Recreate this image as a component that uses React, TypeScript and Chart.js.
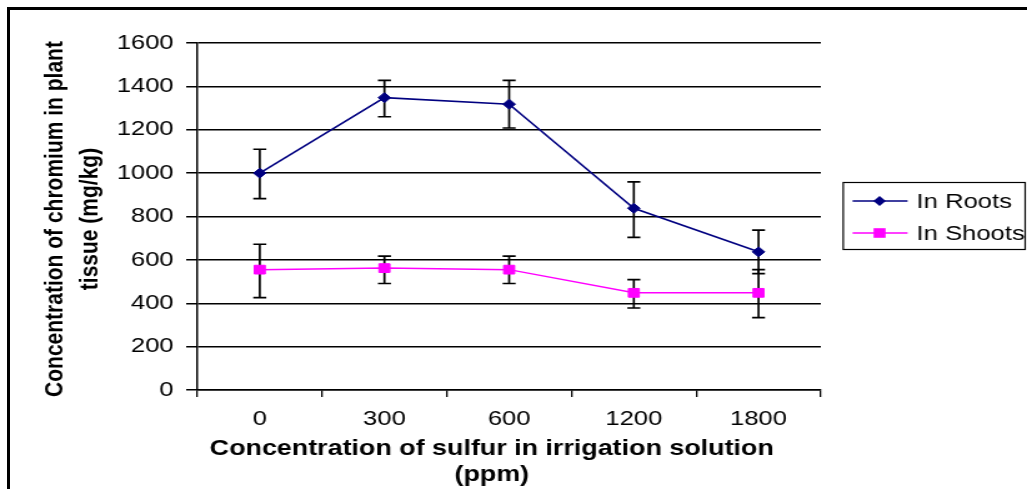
import React, { useEffect, useRef } from "react";
import { Chart, registerables } from "chart.js";

Chart.register(...registerables);

const categories = ["0", "300", "600", "1200", "1800"];
const roots = [1000, 1348, 1318, 838, 637];
const rootsLow = [882, 1260, 1208, 704, 537];
const rootsHigh = [1110, 1428, 1428, 960, 737];
const shoots = [555, 562, 555, 448, 448];
const shootsLow = [426, 491, 491, 378, 334];
const shootsHigh = [672, 617, 617, 509, 555];
const seriesNames = ["In Roots", "In Shoots"];
const yTitleLines = ["Concentration of chromium in plant", "tissue (mg/kg)"];
const xTitleLines = ["Concentration of sulfur in irrigation solution", "(ppm)"];

const ROOT_COLOR = "#000080";
const SHOOT_COLOR = "#FF00FF";
const FONT = "'Liberation Sans', Arial, sans-serif";
const W = 822;
const H = 489;
const K = 1027 / W;

const errLows = [rootsLow, shootsLow];
const errHighs = [rootsHigh, shootsHigh];

const errorBarPlugin = {
  id: "errorBars",
  beforeDatasetsDraw(chart: any) {
    const ctx = chart.ctx;
    const y = chart.scales.y;
    ctx.save();
    ctx.strokeStyle = "#000";
    ctx.lineWidth = 1.7;
    chart.data.datasets.forEach((ds: any, di: number) => {
      const meta = chart.getDatasetMeta(di);
      meta.data.forEach((pt: any, i: number) => {
        const x = pt.x;
        const yl = y.getPixelForValue(errLows[di][i]);
        const yh = y.getPixelForValue(errHighs[di][i]);
        const cw = 5.2;
        ctx.beginPath();
        ctx.moveTo(x, yl);
        ctx.lineTo(x, yh);
        ctx.moveTo(x - cw, yl);
        ctx.lineTo(x + cw, yl);
        ctx.moveTo(x - cw, yh);
        ctx.lineTo(x + cw, yh);
        ctx.stroke();
      });
    });
    ctx.restore();
  },
};

const decorPlugin = {
  id: "decor",
  afterDraw(chart: any) {
    const ctx = chart.ctx;
    ctx.save();
    ctx.fillStyle = "#000";
    ctx.font = `bold 21.5px ${FONT}`;
    ctx.textAlign = "center";
    ctx.textBaseline = "alphabetic";
    ctx.fillText(xTitleLines[0], 393.6, 455);
    ctx.fillText(xTitleLines[1], 393.6, 481);
    ctx.font = `bold 21px ${FONT}`;
    const yBases = [50.4, 77.6];
    yTitleLines.forEach((t, i) => {
      ctx.save();
      ctx.translate(yBases[i], 219);
      ctx.rotate(-Math.PI / 2);
      ctx.fillText(t, 0, 0);
      ctx.restore();
    });
    // legend
    const bx = 674.4, by = 182, bw = 145.6, bh = 67;
    ctx.strokeStyle = "#000";
    ctx.lineWidth = 1.2;
    ctx.strokeRect(bx + 0.5, by + 0.5, bw, bh);
    const rows = [201, 233];
    const colors = [ROOT_COLOR, SHOOT_COLOR];
    ctx.font = `20.5px ${FONT}`;
    ctx.textAlign = "left";
    ctx.textBaseline = "middle";
    rows.forEach((ry, i) => {
      ctx.strokeStyle = colors[i];
      ctx.lineWidth = 1.5;
      ctx.beginPath();
      ctx.moveTo(682.4, ry);
      ctx.lineTo(726.4, ry);
      ctx.stroke();
      ctx.fillStyle = colors[i];
      ctx.beginPath();
      if (i === 0) {
        ctx.moveTo(704 - 5, ry);
        ctx.lineTo(704, ry - 5);
        ctx.lineTo(704 + 5, ry);
        ctx.lineTo(704, ry + 5);
        ctx.closePath();
      } else {
        ctx.rect(704 - 4.8, ry - 4.8, 9.6, 9.6);
      }
      ctx.fill();
      ctx.fillStyle = "#000";
      ctx.fillText(seriesNames[i], 733.6, ry + 1);
    });
    ctx.restore();
  },
};

export default function App() {
  const ref = useRef<HTMLCanvasElement>(null);
  useEffect(() => {
    if (!ref.current) return;
    const chart = new Chart(ref.current, {
      type: "line",
      data: {
        labels: categories,
        datasets: [
          {
            label: seriesNames[0],
            data: roots,
            borderColor: ROOT_COLOR,
            backgroundColor: ROOT_COLOR,
            borderWidth: 1.6,
            pointStyle: "rectRot",
            pointRadius: 5,
            pointBorderWidth: 1,
            tension: 0,
          },
          {
            label: seriesNames[1],
            data: shoots,
            borderColor: SHOOT_COLOR,
            backgroundColor: SHOOT_COLOR,
            borderWidth: 1.5,
            pointStyle: "rect",
            pointRadius: 6.2,
            pointBorderWidth: 1,
            tension: 0,
          },
        ],
      },
      options: {
        animation: false,
        responsive: false,
        devicePixelRatio: 1,
        layout: { padding: { left: 0, top: 43, right: 165, bottom: 0 } },
        plugins: { legend: { display: false }, tooltip: { enabled: false }, title: { display: false } },
        scales: {
          x: {
            offset: true,
            grid: { offset: true, drawOnChartArea: false, drawTicks: true, tickLength: 7, color: "#000", lineWidth: 1.3 },
            border: { display: true, color: "#000", width: 1.5 },
            ticks: { color: "#000", font: { family: FONT, size: 20.5 }, padding: 10, maxRotation: 0, autoSkip: false },
            afterFit: (s: any) => { s.height = 99; },
          },
          y: {
            min: 0,
            max: 1600,
            grid: { color: "#000", lineWidth: 1.5, tickLength: 9, drawTicks: true },
            border: { display: true, color: "#000", width: 1.5 },
            ticks: {
              stepSize: 200,
              color: "#000",
              font: { family: FONT, size: 20.5 },
              padding: 10,
              callback: (v: any) => String(v),
            },
            afterFit: (s: any) => { s.width = 158; },
          },
        },
      },
      plugins: [errorBarPlugin, decorPlugin],
    });
    return () => chart.destroy();
  }, []);

  return (
    <div style={{ position: "fixed", left: 0, top: 0, width: 1027, height: 489, overflow: "hidden", background: "#fff" }}>
      <div style={{ position: "absolute", left: 0, top: 0, width: W, height: H, transform: `scaleX(${K})`, transformOrigin: "0 0" }}>
        <canvas ref={ref} width={W} height={H} style={{ display: "block", width: W, height: H }} />
      </div>
      <div style={{ position: "absolute", left: 7, top: 7, width: 1200, height: 700, border: "3px solid #000", boxSizing: "border-box" }} />
    </div>
  );
}
